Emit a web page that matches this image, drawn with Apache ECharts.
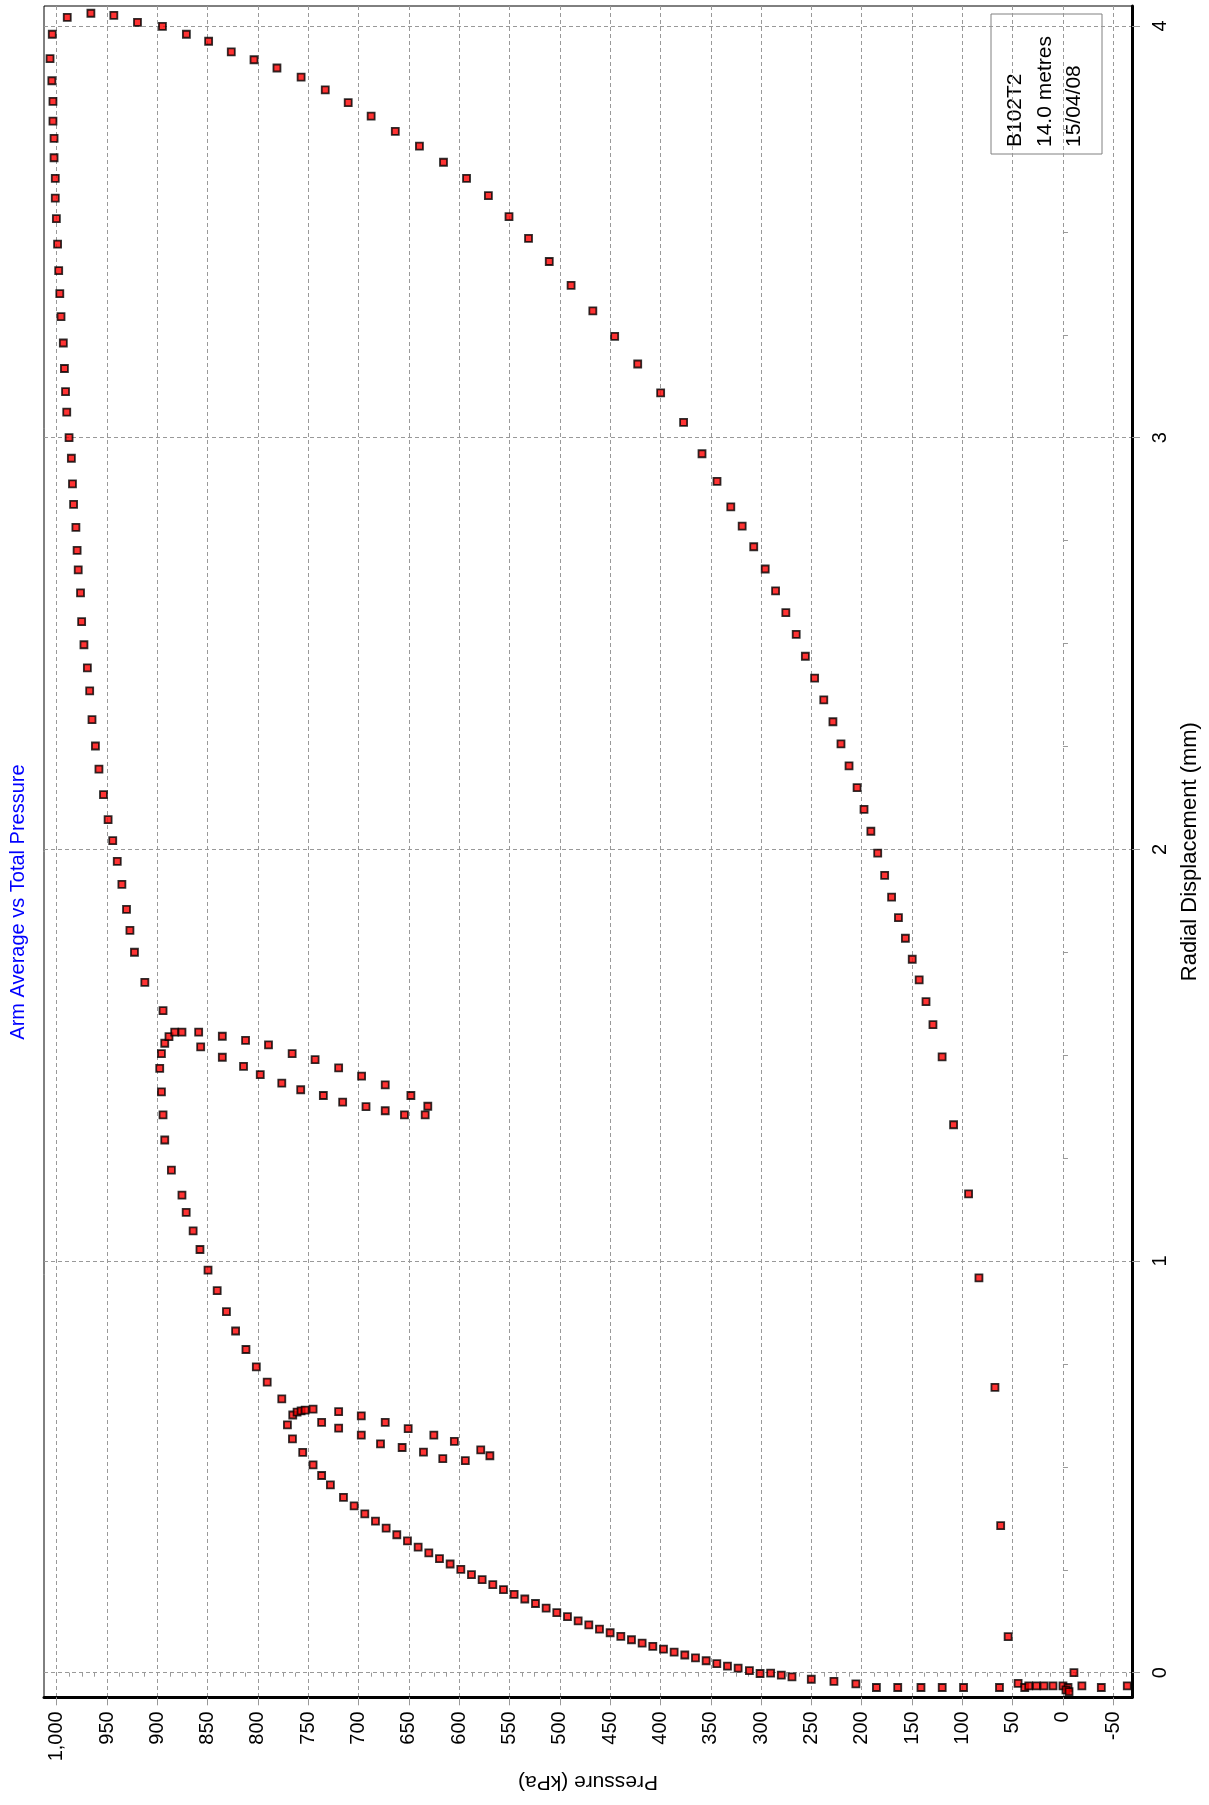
<!DOCTYPE html>
<html>
<head>
<meta charset="utf-8">
<script src="https://cdn.jsdelivr.net/npm/echarts@6/dist/echarts.min.js"></script>
<style>
html,body{margin:0;padding:0;background:#fff;}
#chart{width:1209px;height:1805px;}
</style>
</head>
<body>
<div id="chart"></div>
<script>
// ---- tick labels and texts ----
const pressureTicks = [1000, 950, 900, 850, 800, 750, 700, 650, 600, 550, 500, 450, 400, 350, 300, 250, 200, 150, 100, 50, 0, -50];
const dispTicks = [0, 1, 2, 3, 4];
const titleText = 'Arm Average vs Total Pressure';
const pressureName = 'Pressure (kPa)';
const dispName = 'Radial Displacement (mm)';
const legendLines = ['B102T2', '14.0 metres', '15/04/08'];

// ---- data: [pressure kPa, radial displacement mm] ----
const initialRun = [
  [322.8, 0.011], [311.6, 0.005], [301.0, -0.002], [290.5, -0.001], [279.9, -0.006], [269.3, -0.010],
  [250.1, -0.016], [227.6, -0.021], [205.8, -0.027], [185.4, -0.036], [164.2, -0.036], [141.1, -0.036],
  [120.0, -0.036], [98.8, -0.036], [63.1, -0.036], [44.6, -0.026], [38.0, -0.036], [34.0, -0.032],
  [26.4, -0.032], [18.8, -0.032], [9.9, -0.032], [0.0, -0.032], [-5.0, -0.036], [-3.0, -0.042], [-6.0, -0.046],
  [-10.9, 0.0], [-18.8, -0.032], [-38.1, -0.036], [-63.9, -0.032]
];
const loadingLower = [
  [333.4, 0.016], [344.0, 0.022], [354.6, 0.029], [365.2, 0.036], [375.8, 0.043], [386.4, 0.050],
  [397.0, 0.057], [407.6, 0.064], [418.2, 0.072], [428.8, 0.080], [439.4, 0.088], [450.0, 0.097],
  [460.6, 0.106], [471.2, 0.116], [481.8, 0.126], [492.4, 0.136], [503.0, 0.146], [513.6, 0.157],
  [524.2, 0.168], [534.8, 0.179], [545.4, 0.190], [556.0, 0.202], [566.6, 0.214], [577.2, 0.226],
  [587.8, 0.238], [598.4, 0.251], [609.0, 0.264], [619.6, 0.277], [630.2, 0.291], [640.8, 0.305],
  [651.4, 0.320], [662.0, 0.335], [672.6, 0.351], [683.2, 0.368], [693.8, 0.386], [704.4, 0.405],
  [715.0, 0.426], [728.0, 0.456], [736.7, 0.479], [745.2, 0.505], [755.5, 0.535], [765.7, 0.568],
  [770.7, 0.602], [765.4, 0.626], [761.1, 0.633], [757.1, 0.636], [753.1, 0.638], [745.2, 0.640]
];
const loadingMiddle = [
  [776.3, 0.665], [790.8, 0.706], [801.6, 0.743], [811.9, 0.785], [822.2, 0.830], [831.3, 0.877],
  [840.5, 0.928], [849.6, 0.978], [857.6, 1.028], [864.4, 1.073], [871.3, 1.118], [875.5, 1.160],
  [886.0, 1.221], [892.6, 1.294], [894.3, 1.355], [895.9, 1.411], [897.6, 1.468], [895.9, 1.504],
  [892.6, 1.529], [888.4, 1.545], [882.7, 1.556], [875.5, 1.556], [858.9, 1.556]
];
const loadingUpper = [
  [894.3, 1.608], [912.4, 1.677], [922.7, 1.750], [927.2, 1.803], [930.6, 1.854], [935.2, 1.915],
  [939.8, 1.971], [944.3, 2.021], [948.9, 2.072], [953.5, 2.133], [958.0, 2.195], [961.5, 2.251],
  [964.9, 2.315], [967.2, 2.385], [969.5, 2.441], [972.9, 2.497], [975.2, 2.553], [976.3, 2.623],
  [978.6, 2.679], [979.7, 2.726], [980.9, 2.782], [983.2, 2.838], [984.3, 2.888], [985.4, 2.950],
  [987.7, 3.000], [990.0, 3.062], [991.2, 3.112], [992.3, 3.168], [993.4, 3.230], [995.7, 3.294],
  [996.9, 3.350], [998.0, 3.406], [999.1, 3.470], [1000.3, 3.532], [1001.4, 3.582], [1001.4, 3.630],
  [1002.6, 3.680], [1002.6, 3.727], [1003.7, 3.769], [1003.7, 3.817], [1004.8, 3.867], [1006.6, 3.921],
  [1004.4, 3.980]
];
const loop1Unload = [
  [719.8, 0.634], [697.3, 0.624], [673.5, 0.608], [650.7, 0.593], [625.2, 0.577], [604.8, 0.562], [578.6, 0.541]
];
const loop1Reload = [
  [569.5, 0.527], [593.9, 0.515], [616.3, 0.520], [635.5, 0.536], [656.7, 0.547], [678.2, 0.556],
  [697.3, 0.577], [719.8, 0.594], [736.7, 0.608]
];
const loop2Unload = [
  [835.4, 1.546], [812.3, 1.536], [789.5, 1.525], [766.0, 1.504], [743.2, 1.489], [719.8, 1.469],
  [697.0, 1.449], [673.5, 1.428], [648.0, 1.402], [631.2, 1.376]
];
const loop2Reload = [
  [633.8, 1.355], [654.4, 1.355], [673.5, 1.365], [692.6, 1.375], [715.8, 1.386], [735.0, 1.402],
  [757.5, 1.416], [776.3, 1.432], [797.7, 1.453], [814.3, 1.473], [835.4, 1.495], [856.9, 1.520]
];
const finalUnload = [
  [989.5, 4.021], [966.0, 4.031], [943.2, 4.026], [919.7, 4.009], [894.9, 3.999], [871.1, 3.980],
  [849.0, 3.963], [826.5, 3.937], [803.9, 3.918], [781.1, 3.898], [757.1, 3.876], [733.1, 3.845],
  [710.3, 3.814], [687.5, 3.781], [663.5, 3.744], [639.5, 3.708], [615.6, 3.669], [592.7, 3.630],
  [571.0, 3.588], [550.5, 3.537], [531.1, 3.484], [510.5, 3.428], [488.8, 3.370], [467.2, 3.308],
  [445.5, 3.246], [422.6, 3.179], [399.8, 3.109], [377.0, 3.037], [358.7, 2.961], [343.8, 2.894],
  [330.1, 2.832], [318.8, 2.785], [307.3, 2.735], [295.9, 2.681], [285.6, 2.628], [275.4, 2.575],
  [265.1, 2.522], [256.0, 2.469], [246.8, 2.416], [237.7, 2.363], [228.6, 2.310], [220.6, 2.256],
  [212.6, 2.203], [204.6, 2.150], [197.7, 2.097], [190.9, 2.044], [184.1, 1.991], [177.2, 1.937],
  [170.3, 1.884], [163.5, 1.834], [156.6, 1.784], [149.8, 1.733], [142.9, 1.683], [136.1, 1.630],
  [129.2, 1.574], [120.1, 1.496], [108.7, 1.331], [93.8, 1.163], [83.5, 0.959], [67.6, 0.693],
  [61.9, 0.357], [54.5, 0.0875]
];

// ---- axis ranges (read from the frame) ----
const pressureMin = -68.6, pressureMax = 1012.6;
const dispMin = -0.0598, dispMax = 4.0486;

const minorPressure = [];
for (let k = -5; k <= 80; k++) { if (k % 4 !== 0) minorPressure.push(k * 12.5); }
const minorDisp = [];
for (let k = 1; k < 16; k++) { if (k % 4 !== 0) minorDisp.push(k * 0.25); }

const FONT = 'Liberation Sans, Arial, sans-serif';
const fmt = v => String(Math.round(v)).replace(/\B(?=(\d{3})+(?!\d))/g, ',');

const markerStyle = { color: '#ff0000', borderColor: '#000000', borderWidth: 1.8 };
function scatter(name, data) {
  return {
    name, type: 'scatter', data, symbol: 'rect', symbolSize: 7,
    xAxisIndex: 0, yAxisIndex: 0, itemStyle: markerStyle, clip: true,
    emphasis: { disabled: true }, silent: true
  };
}

const chart = echarts.init(document.getElementById('chart'), null, { renderer: 'canvas' });
chart.setOption({
  backgroundColor: '#ffffff',
  animation: false,
  grid: { left: 44, top: 6, width: 1090.5, height: 1691.3, show: true, borderColor: '#000', borderWidth: 1, backgroundColor: 'transparent' },
  xAxis: [{
    type: 'value', inverse: true, min: pressureMin, max: pressureMax, position: 'bottom',
    name: pressureName, nameLocation: 'middle', nameGap: 74, nameRotate: 180,
    nameTextStyle: { fontSize: 21, color: '#000', fontFamily: FONT },
    axisLine: { show: true, onZero: false, lineStyle: { color: '#000', width: 3 } },
    axisTick: { show: true, customValues: pressureTicks, length: 8, lineStyle: { color: '#999', width: 1 } },
    axisLabel: { customValues: pressureTicks, rotate: 90, margin: 14, fontSize: 20, color: '#000', fontFamily: FONT, formatter: fmt },
    splitLine: { show: true, lineStyle: { color: '#999', width: 1, type: [4, 3] } }
  }, {
    type: 'value', inverse: true, min: pressureMin, max: pressureMax, position: 'bottom',
    axisLine: { show: false }, axisLabel: { show: false }, splitLine: { show: false },
    axisTick: { show: true, customValues: minorPressure, length: 4, lineStyle: { color: '#999', width: 1 } }
  }],
  yAxis: [{
    type: 'value', min: dispMin, max: dispMax, position: 'right',
    name: dispName, nameLocation: 'middle', nameGap: 47, nameRotate: 90,
    nameTextStyle: { fontSize: 22, color: '#000', fontFamily: FONT },
    axisLine: { show: true, onZero: false, lineStyle: { color: '#000', width: 3 } },
    axisTick: { show: true, customValues: dispTicks, length: 8, lineStyle: { color: '#999', width: 1 } },
    axisLabel: { customValues: dispTicks, rotate: 90, margin: 18, fontSize: 20, color: '#000', fontFamily: FONT },
    splitLine: { show: true, lineStyle: { color: '#999', width: 1, type: [4, 3] } }
  }, {
    type: 'value', min: dispMin, max: dispMax, position: 'right',
    axisLine: { show: false }, axisLabel: { show: false }, splitLine: { show: false },
    axisTick: { show: true, customValues: minorDisp, length: 5, lineStyle: { color: '#999', width: 1 } }
  }],
  graphic: [
    {
      type: 'text', x: 18, y: 902, rotation: Math.PI / 2, silent: true,
      style: { text: titleText, fill: '#0000ff', fontSize: 20, fontFamily: FONT, textAlign: 'center', textVerticalAlign: 'middle' }
    },
    {
      type: 'group', silent: true, children: [
        { type: 'rect', shape: { x: 991, y: 14, width: 111, height: 140 }, style: { fill: '#fff', stroke: '#808080', lineWidth: 1 } },
        { type: 'text', x: 1015.5, y: 147, rotation: Math.PI / 2, style: { text: legendLines[0], fill: '#000', fontSize: 21, fontFamily: FONT, textAlign: 'left', textVerticalAlign: 'middle' } },
        { type: 'text', x: 1045, y: 147, rotation: Math.PI / 2, style: { text: legendLines[1], fill: '#000', fontSize: 21, fontFamily: FONT, textAlign: 'left', textVerticalAlign: 'middle' } },
        { type: 'text', x: 1074.5, y: 147, rotation: Math.PI / 2, style: { text: legendLines[2], fill: '#000', fontSize: 21, fontFamily: FONT, textAlign: 'left', textVerticalAlign: 'middle' } }
      ]
    }
  ],
  series: [
    scatter('initial', initialRun),
    scatter('loading lower', loadingLower),
    scatter('loading middle', loadingMiddle),
    scatter('loading upper', loadingUpper),
    scatter('loop1 unload', loop1Unload),
    scatter('loop1 reload', loop1Reload),
    scatter('loop2 unload', loop2Unload),
    scatter('loop2 reload', loop2Reload),
    scatter('final unload', finalUnload)
  ]
});
</script>
</body>
</html>
